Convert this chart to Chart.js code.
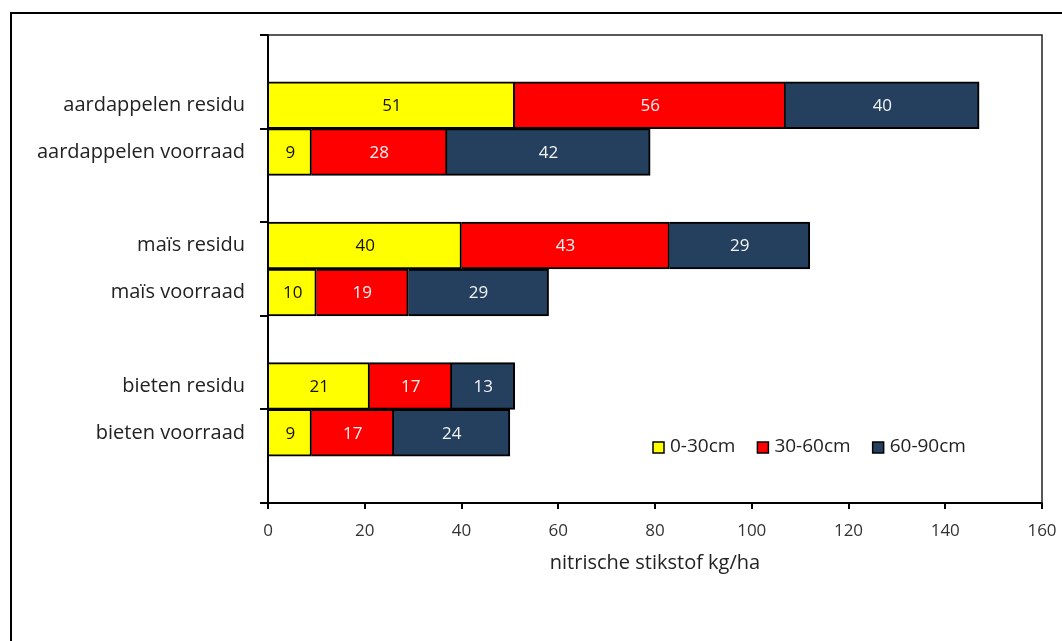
<!DOCTYPE html>
<html>
<head>
<meta charset="utf-8">
<script src="https://cdn.jsdelivr.net/npm/chart.js@4"></script>
<style>
  html, body { margin: 0; padding: 0; background: #fff; }
  #wrap { position: relative; width: 1062px; height: 641px; }
</style>
</head>
<body>
<div id="wrap"><canvas id="chart" width="1062" height="641"></canvas></div>
<script>
// categories (empty slots are the gaps between crop groups)
let categories = ['', 'aardappelen residu', 'aardappelen voorraad', '', 'maïs residu', 'maïs voorraad', '', 'bieten residu', 'bieten voorraad', ''];
let layer0_30 = [null, 51, 9, null, 40, 10, null, 21, 9, null];
let layer30_60 = [null, 56, 28, null, 43, 19, null, 17, 17, null];
let layer60_90 = [null, 40, 42, null, 29, 29, null, 13, 24, null];
let seriesNames = ['0-30cm', '30-60cm', '60-90cm'];
let xTicks = [0, 20, 40, 60, 80, 100, 120, 140, 160];

let colors = ['#ffff00', '#ff0000', '#253f5f'];
let labelColors = ['#111111', '#f4f4f4', '#f4f4f4'];
let fontMain = '"Open Sans", "Noto Sans", sans-serif';

// frame, plot border, value labels and legend
let extras = {
  id: 'extras',
  beforeDraw(chart) {
    let ctx = chart.ctx;
    ctx.save();
    ctx.fillStyle = '#000';
    ctx.fillRect(10, 12, 1062, 2);
    ctx.fillRect(10, 12, 2, 641);
    ctx.restore();
  },
  afterDatasetsDraw(chart) {
    let ctx = chart.ctx;
    let area = chart.chartArea;
    ctx.save();
    ctx.strokeStyle = '#222';
    ctx.lineWidth = 1.5;
    ctx.beginPath();
    ctx.moveTo(area.left, area.top);
    ctx.lineTo(area.right, area.top);
    ctx.lineTo(area.right, area.bottom);
    ctx.stroke();

    // values inside the bars
    ctx.font = '17px ' + fontMain;
    ctx.textAlign = 'center';
    ctx.textBaseline = 'middle';
    chart.data.datasets.forEach(function (ds, i) {
      let meta = chart.getDatasetMeta(i);
      meta.data.forEach(function (el, j) {
        let v = ds.data[j];
        if (v === null) return;
        ctx.fillStyle = labelColors[i];
        ctx.fillText(String(v), (el.x + el.base) / 2, el.y + 1);
      });
    });

    // legend
    ctx.font = '19px ' + fontMain;
    ctx.textAlign = 'left';
    let x = 653;
    let y = 447;
    seriesNames.forEach(function (name, i) {
      ctx.fillStyle = colors[i];
      ctx.fillRect(x, y - 5, 11, 11);
      ctx.strokeStyle = '#000';
      ctx.lineWidth = 1.5;
      ctx.strokeRect(x, y - 5, 11, 11);
      ctx.fillStyle = '#222';
      ctx.fillText(name, x + 17, y);
      x += 17 + ctx.measureText(name).width + 22;
    });
    ctx.restore();
  }
};

let ctx = document.getElementById('chart').getContext('2d');
let chart = new Chart(ctx, {
  type: 'bar',
  data: {
    labels: categories,
    datasets: [
      { label: seriesNames[0], data: layer0_30, backgroundColor: colors[0] },
      { label: seriesNames[1], data: layer30_60, backgroundColor: colors[1] },
      { label: seriesNames[2], data: layer60_90, backgroundColor: colors[2] }
    ].map(function (d) {
      d.borderColor = '#000';
      d.borderWidth = 2;
      d.barPercentage = 1;
      d.categoryPercentage = 1;
      return d;
    })
  },
  options: {
    indexAxis: 'y',
    responsive: false,
    animation: false,
    layout: { padding: { left: 0, top: 35, right: 20, bottom: 64 } },
    plugins: { legend: { display: false }, tooltip: { enabled: false } },
    scales: {
      x: {
        stacked: true,
        min: 0,
        max: 160,
        afterBuildTicks: function (scale) {
          scale.ticks = xTicks.map(function (v) { return { value: v }; });
        },
        afterFit: function (scale) {
          scale.height = 74;
          scale.paddingLeft = 0;
          scale.paddingRight = 0;
        },
        border: { color: '#000', width: 2 },
        grid: { drawOnChartArea: false, tickLength: 6, tickColor: '#000', lineWidth: 2 },
        ticks: { color: '#333', font: { size: 17, family: fontMain }, padding: 12 },
        title: {
          display: true,
          text: 'nitrische stikstof kg/ha',
          color: '#222',
          font: { size: 20, family: fontMain },
          padding: { top: 0, bottom: 2 }
        }
      },
      y: {
        stacked: true,
        afterFit: function (scale) {
          scale.width = 268;
          scale.paddingTop = 0;
          scale.paddingBottom = 0;
        },
        border: { color: '#000', width: 2 },
        grid: {
          drawOnChartArea: false,
          tickLength: 8,
          lineWidth: 2,
          tickColor: function (c) {
            return (c.index === undefined || c.index % 2 === 0) ? '#000' : 'rgba(0,0,0,0)';
          }
        },
        ticks: { color: '#222', font: { size: 20, family: fontMain }, padding: 15, autoSkip: false }
      }
    }
  },
  plugins: [extras]
});
</script>
</body>
</html>
